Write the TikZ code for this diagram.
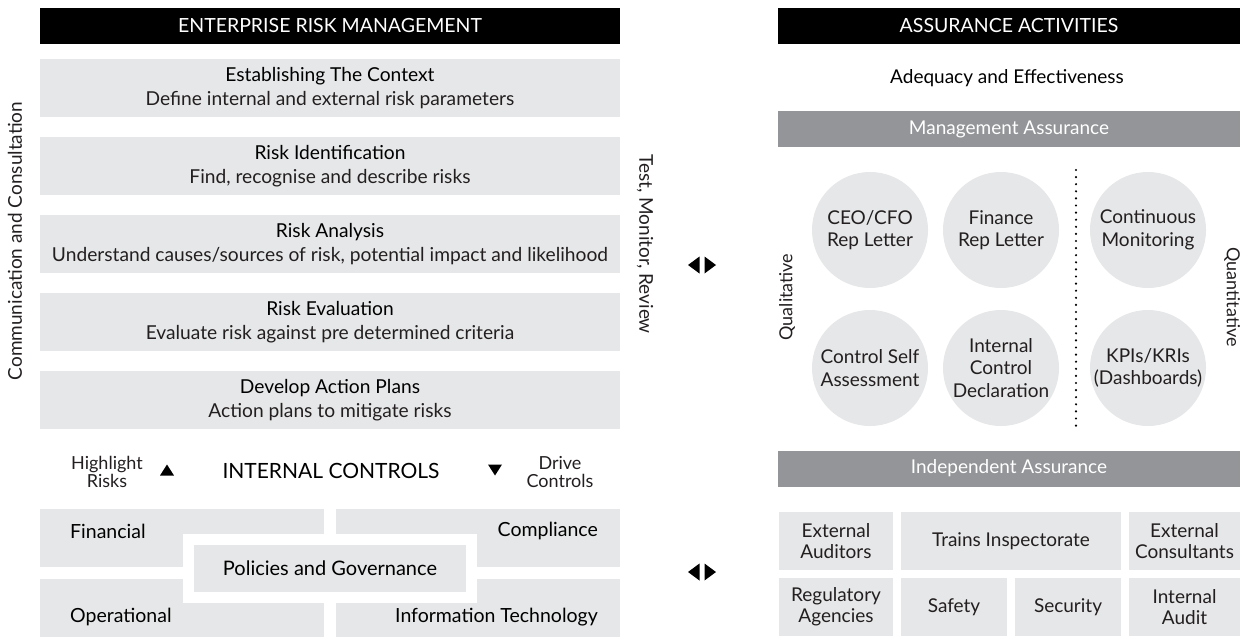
\documentclass[tikz,border=0pt]{standalone}
\usepackage{fontspec}
\setmainfont{Lato}
\usetikzlibrary{positioning}

\definecolor{lightgrey}{HTML}{E6E7E8}
\definecolor{midgrey}{HTML}{939598}
\definecolor{softblack}{HTML}{231F20}

\begin{document}
\begin{tikzpicture}[x=1pt, y=1pt, node distance={78pt},
    hdr/.style = {fill=black, text=white, minimum height=36pt, inner sep=0pt, font=\fontsize{19.5}{20}\selectfont},
    stepbox/.style = {fill=lightgrey, minimum width=580pt, minimum height=58pt, inner sep=0pt, align=center, font=\fontsize{19.2}{24}\selectfont},
    ctrl/.style = {fill=lightgrey, minimum width=284pt, minimum height=58pt, inner sep=0pt},
    bar/.style = {fill=midgrey, text=white, minimum width=462pt, minimum height=36pt, inner sep=0pt, font=\fontsize{19}{20}\selectfont},
    circ/.style = {circle, fill=lightgrey, minimum size=116pt, inner sep=0pt, align=center, text=softblack, font=\fontsize{19}{22.5}\selectfont},
    cell/.style = {fill=lightgrey, minimum height=58pt, inner sep=0pt, align=center, text=softblack, font=\fontsize{19}{21}\selectfont},
    side/.style = {text=softblack, inner sep=0pt, font=\fontsize{19}{20}\selectfont},
    lbl/.style = {inner sep=0pt, align=center, font=\fontsize{19.5}{20}\selectfont}]
    \useasboundingbox (0,0) rectangle (1246,-637);

    % left: enterprise risk management
    \node[hdr, minimum width=580pt] (erm) at (330,-26) {ENTERPRISE RISK MANAGEMENT};
    \node[stepbox] (proc1) at (330,-88) {Establishing The Context\\{\color{softblack}Define internal and external risk parameters}};
    \node[stepbox] (proc2) [below of =proc1] {Risk Identification\\{\color{softblack}Find, recognise and describe risks}};
    \node[stepbox] (proc3) [below of =proc2] {Risk Analysis\\{\color{softblack}Understand causes/sources of risk, potential impact and likelihood}};
    \node[stepbox] (proc4) [below of =proc3] {Risk Evaluation\\{\color{softblack}Evaluate risk against pre determined criteria}};
    \node[stepbox] (proc5) [below of =proc4] {Develop Action Plans\\{\color{softblack}Action plans to mitigate risks}};

    \node[side, rotate=90] (comm) at (15,-241) {Communication and Consultation};
    \node[side, rotate=-90] (tmr) at (645,-244) {Test, Monitor, Review};

    % internal controls
    \node[lbl, text=softblack, font=\fontsize{18}{18}\selectfont] (highlight) at (107,-472) {Highlight\\Risks};
    \node[lbl, font=\fontsize{21}{20}\selectfont] (ic) at (331,-471) {INTERNAL CONTROLS};
    \node[lbl, text=softblack, font=\fontsize{18}{18}\selectfont] (drive) at (560,-472) {Drive\\Controls};
    \coordinate (upmark) at (167,-470);
    \coordinate (downmark) at (495,-470);
    \fill[shift={(upmark)}] (-7,-5.5) -- (7,-5.5) -- (0,5.5) -- cycle;
    \fill[shift={(downmark)}] (-7,5.5) -- (7,5.5) -- (0,-5.5) -- cycle;

    \node[ctrl] (fin) at (182,-538) {};
    \node[ctrl] (comp) at (478,-538) {};
    \node[ctrl] (oper) at (182,-608) {};
    \node[ctrl] (it) at (478,-608) {};
    \node[fill=white, minimum width=294pt, minimum height=69pt, inner sep=0pt] (frame) at (330,-568.5) {};
    \node[fill=lightgrey, minimum width=272pt, minimum height=47pt, inner sep=0pt, font=\fontsize{20}{20}\selectfont] (policy) at (frame) {Policies and Governance};
    \node[lbl, anchor=west] at (70,-531) {Financial};
    \node[lbl, anchor=east] at (598,-531) {Compliance};
    \node[lbl, anchor=west] at (70,-617) {Operational};
    \node[lbl, anchor=east] at (598,-617) {Information Technology};

    % links between the two sides
    \coordinate (link1) at (702,-265);
    \coordinate (link2) at (702,-572);
    \foreach \p in {link1, link2} {
      \fill[shift={(\p)}] (-14,0) -- (-2.5,8.5) -- (-2.5,-8.5) -- cycle;
      \fill[shift={(\p)}] (14,0) -- (2.5,8.5) -- (2.5,-8.5) -- cycle;
    }

    % right: assurance activities
    \node[hdr, minimum width=462pt] (assure) at (1009,-26) {ASSURANCE ACTIVITIES};
    \node[lbl, font=\fontsize{19}{20}\selectfont] (adequacy) at (1007,-78) {Adequacy and Effectiveness};
    \node[bar] (mgmt) at (1009,-129) {Management Assurance};

    \node[circ] (ceo) at (870,-230) {CEO/CFO\\Rep Letter};
    \node[circ] (finrep) at (1001,-230) {Finance\\Rep Letter};
    \node[circ] (monitor) at (1148,-230) {Continuous\\Monitoring};
    \node[circ] (csa) at (870,-368) {Control Self\\Assessment};
    \node[circ] (icd) at (1001,-368) {Internal\\Control\\Declaration};
    \node[circ] (kpi) at (1148,-368) {KPIs/KRIs\\(Dashboards)};

    \coordinate (dtop) at (1076,-170);
    \coordinate (dbot) at (1076,-427);
    \draw[dash pattern=on 0pt off 7.1pt, line cap=round, line width=2.4pt] (dtop) -- (dbot);

    \node[side, rotate=90, font=\fontsize{18}{20}\selectfont] (qual) at (787,-297) {Qualitative};
    \node[side, rotate=-90, font=\fontsize{18}{20}\selectfont] (quant) at (1232,-297) {Quantitative};

    \node[bar] (indep) at (1009,-468.5) {Independent Assurance};
    \node[cell, minimum width=114pt] (extaud) at (836,-541) {External\\Auditors};
    \node[cell, minimum width=220pt] (trains) at (1011,-541) {Trains Inspectorate};
    \node[cell, minimum width=111pt] (extcons) at (1184.5,-541) {External\\Consultants};
    \node[cell, minimum width=114pt] (reg) at (836,-607) {Regulatory\\Agencies};
    \node[cell, minimum width=106pt] (safety) at (954,-607) {Safety};
    \node[cell, minimum width=106pt] (security) at (1068,-607) {Security};
    \node[cell, minimum width=111pt] (intaudit) at (1184.5,-607) {Internal\\Audit};
\end{tikzpicture}
\end{document}
